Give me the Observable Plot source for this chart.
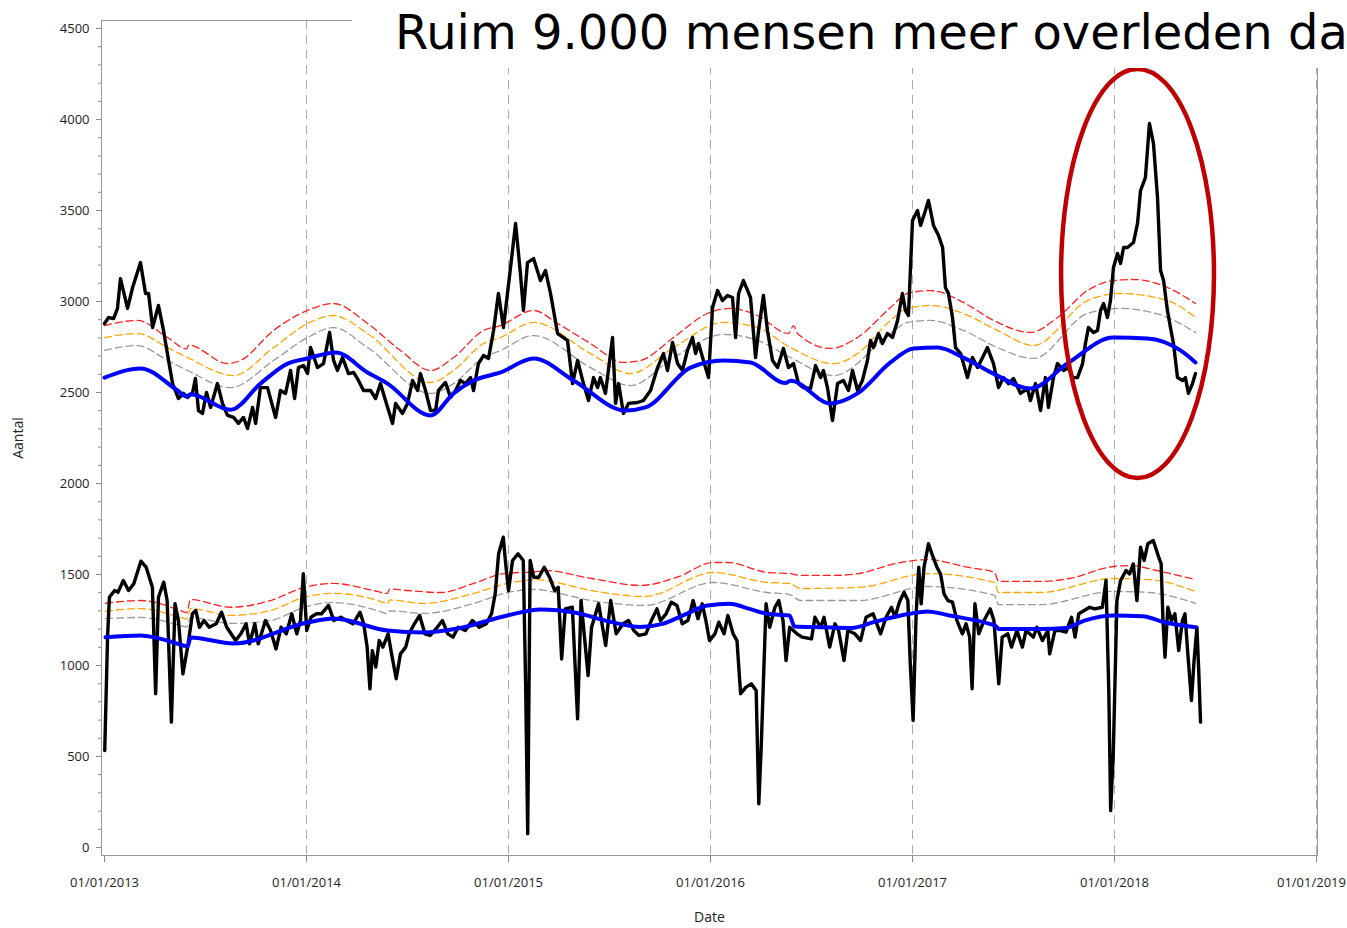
<!DOCTYPE html>
<html><head><meta charset="utf-8">
<script src="https://cdn.jsdelivr.net/npm/d3@7"></script>
<script src="https://cdn.jsdelivr.net/npm/@observablehq/plot@0.6"></script>
<style>
html,body{margin:0;padding:0;background:#fff;overflow:hidden}
#wrap{position:relative;width:1347px;height:928px}
#chart svg{display:block}
#title{position:absolute;left:352px;top:0;width:995px;height:68px;background:#fff;overflow:hidden;white-space:nowrap;font-family:"DejaVu Sans";font-size:48px;line-height:48px;color:#000}
#title span{position:absolute;left:43px;top:8px}
</style></head>
<body><div id="wrap"><div id="chart"></div><div id="title"><span>Ruim 9.000 mensen meer overleden da</span></div></div>
<script>
// ---- data: [decimal year, number of deaths] ----
const yearTicks = [2013, 2014, 2015, 2016, 2017, 2018, 2019];
const gridYears = [2014, 2015, 2016, 2017, 2018, 2019];
const yTicks = [0, 500, 1000, 1500, 2000, 2500, 3000, 3500, 4000, 4500];
const ellipseX = [2017.738, 2018.495];
const ellipseY = [2027, 4275];

const upperObserved = [[2013.000,2879],[2013.020,2912],[2013.045,2906],[2013.064,2962],[2013.079,3126],[2013.114,2962],[2013.139,3077],[2013.178,3214],[2013.203,3044],[2013.218,3044],[2013.238,2857],[2013.267,2978],[2013.292,2841],[2013.317,2676],[2013.337,2549],[2013.366,2467],[2013.391,2495],[2013.411,2473],[2013.436,2500],[2013.450,2577],[2013.465,2401],[2013.485,2385],[2013.505,2500],[2013.525,2418],[2013.559,2549],[2013.584,2440],[2013.609,2374],[2013.639,2363],[2013.663,2330],[2013.688,2363],[2013.708,2302],[2013.733,2418],[2013.748,2330],[2013.772,2527],[2013.807,2527],[2013.847,2363],[2013.871,2511],[2013.896,2495],[2013.921,2621],[2013.941,2467],[2013.960,2637],[2013.985,2648],[2014.005,2604],[2014.020,2747],[2014.054,2637],[2014.084,2659],[2014.114,2830],[2014.134,2676],[2014.153,2621],[2014.178,2692],[2014.208,2604],[2014.233,2610],[2014.257,2566],[2014.282,2511],[2014.317,2511],[2014.342,2467],[2014.366,2549],[2014.391,2456],[2014.426,2330],[2014.441,2440],[2014.475,2385],[2014.500,2440],[2014.525,2566],[2014.550,2511],[2014.564,2604],[2014.589,2511],[2014.614,2401],[2014.639,2401],[2014.653,2511],[2014.688,2555],[2014.713,2473],[2014.738,2511],[2014.762,2566],[2014.787,2549],[2014.812,2582],[2014.827,2511],[2014.851,2659],[2014.876,2703],[2014.901,2687],[2014.926,2841],[2014.950,3044],[2014.975,2857],[2015.010,3187],[2015.035,3429],[2015.059,3154],[2015.074,2951],[2015.094,3214],[2015.124,3236],[2015.158,3115],[2015.183,3170],[2015.208,3044],[2015.243,2824],[2015.292,2786],[2015.317,2549],[2015.342,2676],[2015.371,2549],[2015.396,2456],[2015.421,2582],[2015.441,2527],[2015.455,2582],[2015.480,2495],[2015.515,2802],[2015.530,2440],[2015.545,2549],[2015.569,2385],[2015.594,2440],[2015.639,2445],[2015.668,2456],[2015.703,2511],[2015.738,2637],[2015.767,2714],[2015.787,2621],[2015.812,2775],[2015.837,2659],[2015.861,2621],[2015.886,2731],[2015.911,2802],[2015.926,2714],[2015.941,2769],[2015.965,2676],[2015.990,2582],[2016.010,2967],[2016.035,3060],[2016.059,3005],[2016.084,3033],[2016.109,3022],[2016.124,2802],[2016.139,3044],[2016.163,3115],[2016.198,3022],[2016.223,2692],[2016.238,2841],[2016.262,3033],[2016.282,2841],[2016.307,2676],[2016.332,2637],[2016.361,2742],[2016.386,2637],[2016.411,2659],[2016.436,2549],[2016.460,2527],[2016.495,2522],[2016.520,2648],[2016.545,2582],[2016.559,2621],[2016.579,2527],[2016.594,2418],[2016.604,2346],[2016.629,2549],[2016.658,2566],[2016.683,2511],[2016.703,2621],[2016.728,2511],[2016.752,2566],[2016.777,2676],[2016.792,2786],[2016.807,2747],[2016.832,2824],[2016.851,2769],[2016.876,2824],[2016.901,2802],[2016.926,2896],[2016.950,3044],[2016.965,2951],[2016.980,2923],[2017.000,3445],[2017.025,3500],[2017.040,3418],[2017.064,3500],[2017.079,3555],[2017.104,3418],[2017.129,3363],[2017.149,3297],[2017.163,3077],[2017.178,3044],[2017.198,2912],[2017.213,2747],[2017.238,2714],[2017.272,2582],[2017.297,2692],[2017.322,2637],[2017.347,2692],[2017.371,2747],[2017.401,2659],[2017.426,2527],[2017.450,2582],[2017.475,2549],[2017.500,2577],[2017.535,2495],[2017.569,2522],[2017.584,2456],[2017.609,2549],[2017.634,2401],[2017.658,2582],[2017.673,2418],[2017.698,2582],[2017.718,2659],[2017.748,2621],[2017.772,2637],[2017.792,2582],[2017.817,2582],[2017.842,2659],[2017.856,2769],[2017.871,2857],[2017.896,2830],[2017.916,2841],[2017.931,2951],[2017.946,2989],[2017.965,2912],[2017.980,3005],[2017.995,3187],[2018.015,3264],[2018.030,3209],[2018.045,3297],[2018.064,3297],[2018.094,3324],[2018.114,3429],[2018.129,3610],[2018.153,3681],[2018.173,3978],[2018.193,3868],[2018.213,3571],[2018.228,3170],[2018.243,3115],[2018.262,2951],[2018.277,2857],[2018.292,2769],[2018.312,2582],[2018.337,2566],[2018.351,2582],[2018.366,2495],[2018.386,2549],[2018.401,2604]];

const upperBaseline = [[2013.000,2582],[2013.178,2632],[2013.361,2511],[2013.406,2478],[2013.426,2490],[2013.624,2405],[2013.772,2549],[2013.906,2659],[2014.005,2687],[2014.144,2720],[2014.302,2610],[2014.401,2549],[2014.614,2374],[2014.728,2495],[2014.827,2566],[2014.960,2610],[2015.124,2687],[2015.322,2566],[2015.579,2401],[2015.678,2418],[2015.901,2637],[2016.064,2676],[2016.198,2665],[2016.371,2552],[2016.396,2565],[2016.594,2440],[2016.728,2495],[2016.891,2665],[2017.005,2742],[2017.124,2747],[2017.252,2692],[2017.401,2604],[2017.584,2522],[2017.767,2659],[2017.995,2802],[2018.163,2797],[2018.327,2731],[2018.401,2665]];

const upperRed = [[2013.000,2868],[2013.163,2896],[2013.312,2802],[2013.406,2740],[2013.416,2760],[2013.609,2659],[2013.673,2676],[2013.837,2841],[2014.005,2951],[2014.134,2989],[2014.302,2879],[2014.465,2731],[2014.614,2621],[2014.728,2692],[2014.876,2841],[2014.960,2868],[2015.124,2951],[2015.243,2879],[2015.406,2769],[2015.569,2665],[2015.653,2676],[2015.817,2802],[2015.985,2934],[2016.099,2962],[2016.233,2923],[2016.386,2824],[2016.411,2868],[2016.431,2824],[2016.594,2742],[2016.728,2802],[2016.891,2967],[2016.975,3044],[2017.089,3060],[2017.252,2995],[2017.401,2896],[2017.584,2830],[2017.718,2912],[2017.866,3060],[2017.995,3115],[2018.094,3121],[2018.262,3077],[2018.401,2989]];

const upperOrange = [[2013.000,2802],[2013.163,2824],[2013.312,2747],[2013.411,2692],[2013.639,2593],[2013.837,2747],[2014.005,2879],[2014.134,2923],[2014.302,2824],[2014.614,2555],[2014.728,2621],[2014.876,2769],[2014.960,2802],[2015.124,2885],[2015.406,2714],[2015.604,2604],[2015.817,2747],[2016.064,2885],[2016.233,2857],[2016.396,2747],[2016.609,2659],[2016.728,2714],[2016.891,2896],[2016.975,2962],[2017.089,2978],[2017.252,2934],[2017.421,2841],[2017.599,2758],[2017.866,3005],[2018.030,3044],[2018.262,3005],[2018.401,2912]];

const upperGray = [[2013.000,2731],[2013.163,2758],[2013.312,2676],[2013.411,2621],[2013.624,2527],[2013.837,2676],[2014.005,2802],[2014.134,2857],[2014.302,2747],[2014.614,2495],[2014.728,2549],[2014.876,2692],[2014.960,2731],[2015.124,2813],[2015.406,2637],[2015.604,2538],[2015.817,2692],[2016.064,2819],[2016.233,2786],[2016.396,2692],[2016.609,2593],[2016.891,2824],[2016.975,2885],[2017.089,2896],[2017.252,2841],[2017.421,2747],[2017.599,2687],[2017.866,2934],[2018.030,2962],[2018.262,2912],[2018.401,2830]];

const lowerObserved = [[2013.001,533],[2013.015,1156],[2013.024,1375],[2013.050,1412],[2013.067,1403],[2013.093,1467],[2013.119,1412],[2013.145,1449],[2013.180,1573],[2013.206,1540],[2013.237,1430],[2013.253,845],[2013.267,1375],[2013.293,1458],[2013.310,1357],[2013.331,689],[2013.349,1339],[2013.366,1247],[2013.388,954],[2013.414,1119],[2013.435,1284],[2013.452,1302],[2013.470,1210],[2013.493,1247],[2013.518,1210],[2013.553,1229],[2013.579,1293],[2013.605,1210],[2013.649,1137],[2013.675,1174],[2013.701,1229],[2013.718,1119],[2013.744,1229],[2013.761,1119],[2013.797,1247],[2013.822,1192],[2013.849,1091],[2013.874,1210],[2013.900,1174],[2013.927,1284],[2013.952,1174],[2013.970,1247],[2013.984,1504],[2014.001,1192],[2014.022,1265],[2014.048,1284],[2014.074,1284],[2014.109,1330],[2014.135,1247],[2014.170,1265],[2014.196,1247],[2014.230,1229],[2014.265,1293],[2014.283,1229],[2014.300,1101],[2014.314,872],[2014.326,1082],[2014.343,991],[2014.360,1137],[2014.378,1101],[2014.404,1174],[2014.421,1064],[2014.444,927],[2014.465,1064],[2014.491,1101],[2014.508,1174],[2014.534,1229],[2014.560,1275],[2014.586,1174],[2014.612,1165],[2014.647,1210],[2014.673,1247],[2014.699,1174],[2014.725,1156],[2014.751,1210],[2014.786,1192],[2014.821,1247],[2014.855,1210],[2014.890,1229],[2014.916,1284],[2014.934,1394],[2014.951,1614],[2014.974,1705],[2014.986,1559],[2015.000,1412],[2015.020,1577],[2015.047,1614],[2015.073,1577],[2015.085,881],[2015.095,75],[2015.107,1577],[2015.125,1485],[2015.150,1485],[2015.177,1540],[2015.203,1485],[2015.229,1412],[2015.246,1430],[2015.263,1036],[2015.281,1311],[2015.316,1320],[2015.342,707],[2015.359,1357],[2015.394,945],[2015.411,1210],[2015.446,1339],[2015.481,1110],[2015.506,1357],[2015.533,1174],[2015.567,1229],[2015.594,1247],[2015.620,1192],[2015.646,1165],[2015.680,1174],[2015.707,1247],[2015.735,1311],[2015.752,1247],[2015.780,1284],[2015.806,1348],[2015.834,1330],[2015.860,1229],[2015.888,1247],[2015.914,1357],[2015.938,1257],[2015.959,1339],[2015.977,1247],[2015.995,1137],[2016.022,1174],[2016.041,1238],[2016.067,1174],[2016.086,1275],[2016.112,1174],[2016.131,1137],[2016.149,845],[2016.176,881],[2016.202,899],[2016.226,863],[2016.239,240],[2016.251,551],[2016.275,1339],[2016.293,1210],[2016.319,1320],[2016.338,1357],[2016.359,1247],[2016.374,1027],[2016.392,1210],[2016.428,1174],[2016.454,1156],[2016.500,1146],[2016.517,1265],[2016.545,1210],[2016.562,1265],[2016.590,1101],[2016.616,1229],[2016.634,1192],[2016.661,1027],[2016.680,1192],[2016.715,1174],[2016.743,1137],[2016.770,1265],[2016.805,1284],[2016.842,1174],[2016.869,1265],[2016.896,1320],[2016.913,1265],[2016.935,1348],[2016.958,1403],[2016.977,1357],[2016.989,1009],[2017.003,698],[2017.018,1284],[2017.031,1540],[2017.043,1339],[2017.057,1540],[2017.079,1669],[2017.102,1595],[2017.121,1540],[2017.139,1503],[2017.156,1394],[2017.175,1357],[2017.198,1348],[2017.220,1247],[2017.247,1174],[2017.265,1229],[2017.283,1156],[2017.295,872],[2017.309,1339],[2017.328,1174],[2017.354,1247],[2017.385,1311],[2017.403,1247],[2017.427,899],[2017.444,1156],[2017.472,1174],[2017.490,1101],[2017.517,1192],[2017.544,1101],[2017.562,1192],[2017.598,1156],[2017.616,1210],[2017.643,1137],[2017.670,1192],[2017.679,1064],[2017.705,1192],[2017.733,1192],[2017.760,1183],[2017.787,1265],[2017.805,1156],[2017.823,1284],[2017.850,1302],[2017.877,1320],[2017.903,1311],[2017.940,1320],[2017.958,1467],[2017.972,845],[2017.981,203],[2017.994,515],[2018.012,1357],[2018.030,1467],[2018.057,1522],[2018.075,1503],[2018.093,1558],[2018.111,1357],[2018.129,1650],[2018.147,1577],[2018.165,1669],[2018.192,1687],[2018.219,1595],[2018.231,1558],[2018.240,1247],[2018.250,1046],[2018.264,1320],[2018.282,1247],[2018.299,1284],[2018.318,1082],[2018.336,1247],[2018.349,1284],[2018.363,1064],[2018.381,808],[2018.394,1027],[2018.408,1210],[2018.417,973],[2018.426,689]];

const lowerBaseline = [[2013.005,1155],[2013.178,1165],[2013.391,1110],[2013.411,1104],[2013.426,1154],[2013.639,1121],[2014.005,1236],[2014.134,1258],[2014.401,1192],[2014.579,1181],[2014.748,1203],[2014.995,1275],[2015.158,1308],[2015.332,1290],[2015.505,1240],[2015.653,1212],[2015.762,1229],[2015.881,1284],[2015.985,1330],[2016.094,1339],[2016.193,1311],[2016.282,1284],[2016.391,1275],[2016.416,1214],[2016.554,1210],[2016.698,1206],[2016.807,1238],[2016.985,1284],[2017.074,1297],[2017.183,1275],[2017.381,1229],[2017.411,1218],[2017.426,1201],[2017.634,1201],[2017.757,1206],[2017.851,1247],[2017.995,1275],[2018.139,1271],[2018.248,1238],[2018.401,1210]];

const lowerRed = [[2013.005,1342],[2013.178,1357],[2013.376,1302],[2013.406,1290],[2013.426,1362],[2013.624,1320],[2013.822,1357],[2013.985,1428],[2014.134,1451],[2014.332,1412],[2014.401,1396],[2014.411,1420],[2014.500,1412],[2014.663,1401],[2014.827,1451],[2014.975,1505],[2015.144,1517],[2015.183,1522],[2015.411,1478],[2015.653,1440],[2015.832,1484],[2016.015,1566],[2016.084,1566],[2016.282,1511],[2016.391,1505],[2016.446,1495],[2016.609,1495],[2016.733,1505],[2016.916,1560],[2017.074,1582],[2017.272,1540],[2017.406,1511],[2017.426,1462],[2017.634,1462],[2017.777,1478],[2017.995,1544],[2018.084,1549],[2018.208,1522],[2018.401,1472]];

const lowerOrange = [[2013.005,1298],[2013.178,1313],[2013.376,1264],[2013.406,1255],[2013.426,1313],[2013.624,1275],[2013.822,1302],[2013.985,1374],[2014.134,1396],[2014.381,1346],[2014.401,1338],[2014.411,1360],[2014.579,1341],[2014.827,1396],[2014.995,1451],[2015.144,1472],[2015.183,1467],[2015.411,1412],[2015.673,1379],[2016.015,1511],[2016.282,1456],[2016.391,1451],[2016.446,1423],[2016.733,1429],[2017.074,1505],[2017.406,1456],[2017.426,1401],[2017.634,1401],[2017.995,1478],[2018.173,1472],[2018.401,1407]];

const lowerGray = [[2013.005,1258],[2013.178,1264],[2013.376,1220],[2013.406,1212],[2013.426,1264],[2013.624,1231],[2013.822,1247],[2013.985,1319],[2014.134,1346],[2014.381,1291],[2014.401,1284],[2014.411,1300],[2014.579,1286],[2014.827,1341],[2014.995,1401],[2015.144,1418],[2015.183,1412],[2015.411,1357],[2015.673,1330],[2016.015,1456],[2016.282,1401],[2016.391,1390],[2016.446,1357],[2016.733,1357],[2017.074,1434],[2017.406,1385],[2017.426,1335],[2017.634,1335],[2017.995,1407],[2018.173,1401],[2018.401,1341]];

// ---- chart ----
const X = d => d[0], Y = d => d[1];
const dashed = (data, color) => Plot.line(data, {x: X, y: Y, stroke: color, strokeWidth: 1.3, strokeDasharray: "7,4", curve: "monotone-x"});
const fmtDate = d => `01/01/${d}`;

function ellipseMark(index, scales) {
  const x0 = scales.x(ellipseX[0]), x1 = scales.x(ellipseX[1]);
  const y0 = scales.y(ellipseY[0]), y1 = scales.y(ellipseY[1]);
  return d3.create("svg:ellipse")
    .attr("cx", (x0 + x1) / 2).attr("cy", (y0 + y1) / 2)
    .attr("rx", Math.abs(x1 - x0) / 2).attr("ry", Math.abs(y1 - y0) / 2)
    .attr("fill", "none").attr("stroke", "#c00000").attr("stroke-width", 4.5)
    .node();
}

const chart = Plot.plot({
  width: 1347, height: 928,
  marginLeft: 101, marginRight: 30, marginTop: 20, marginBottom: 73,
  x: {domain: [2012.985, 2019.005]},
  y: {domain: [-44, 4544]},
  style: {fontFamily: "'Open Sans'", fontSize: "13px", color: "#222", background: "#fff"},
  marks: [
    Plot.ruleX(gridYears, {stroke: "#aaa", strokeDasharray: "9,6"}),
    Plot.frame({stroke: "#9a9a9a"}),
    Plot.axisY({ticks: d3.range(0, 4501, 100), tickSize: 3, text: null, stroke: "#888", label: null}),
    Plot.axisY({ticks: yTicks, tickSize: 5, tickPadding: 7, stroke: "#888", fill: "#222", label: null, tickFormat: d => String(d)}),
    Plot.axisX({ticks: yearTicks, tickSize: 7, text: null, stroke: "#888", label: null}),
    Plot.axisX({ticks: yearTicks.slice(0, -1), tickSize: 0, tickPadding: 22, fill: "#222", label: null, tickFormat: fmtDate}),
    Plot.axisX({ticks: yearTicks.slice(-1), tickSize: 0, tickPadding: 22, fill: "#222", label: null, tickFormat: fmtDate, dx: -5}),
    Plot.text(["Date"], {frameAnchor: "bottom", dy: 66, fontSize: 14, fill: "#222"}),
    Plot.text(["Aantal"], {frameAnchor: "left", textAnchor: "middle", dx: -83, rotate: -90, fontSize: 14, fill: "#222"}),
    dashed(upperGray, "#999"), dashed(upperOrange, "#ffa500"), dashed(upperRed, "#ff2020"),
    dashed(lowerGray, "#999"), dashed(lowerOrange, "#ffa500"), dashed(lowerRed, "#ff2020"),
    Plot.line(upperObserved, {x: X, y: Y, stroke: "#000", strokeWidth: 3.4}),
    Plot.line(lowerObserved, {x: X, y: Y, stroke: "#000", strokeWidth: 3.4}),
    Plot.line(upperBaseline, {x: X, y: Y, stroke: "#0000ff", strokeWidth: 4, curve: "monotone-x"}),
    Plot.line(lowerBaseline, {x: X, y: Y, stroke: "#0000ff", strokeWidth: 4, curve: "monotone-x"}),
    ellipseMark
  ]
});
document.getElementById("chart").appendChild(chart);
</script>
</body></html>
